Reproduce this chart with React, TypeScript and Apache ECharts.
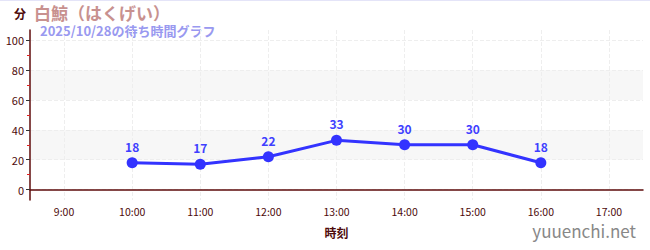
import React, { useEffect, useRef } from "react";
import * as echarts from "echarts";

const hours = ["9:00", "10:00", "11:00", "12:00", "13:00", "14:00", "15:00", "16:00", "17:00"];
const waits: (number | null)[] = [null, 18, 17, 22, 33, 30, 30, 18, null];
const yMajor = [0, 20, 40, 60, 80, 100];
const yMinor = [10, 30, 50, 70, 90];
const titleText = "白鯨（はくげい）";
const subText = "2025/10/28の待ち時間グラフ";

const FONT = "'Noto Sans CJK JP', 'Noto Sans', sans-serif";
const DARK = "#4d0a0a";

export default function App() {
  const ref = useRef<HTMLDivElement>(null);
  useEffect(() => {
    const chart = echarts.init(ref.current!, null, { renderer: "svg" });
    chart.setOption({
      animation: false,
      textStyle: { fontFamily: FONT },
      grid: { left: 30, right: 7, top: 30, bottom: 50 },
      graphic: [
        { type: "text", left: 14, top: 7, style: { text: "分", fill: DARK, font: `bold 12px ${FONT}` } },
        {
          type: "text",
          left: 34,
          top: 3,
          style: { text: titleText, fill: "#c8918f", font: `bold 17px ${FONT}`, lineHeight: 18 },
        },
        {
          type: "text",
          left: 40,
          top: 23,
          style: { text: subText, fill: "#9999f0", font: `bold 13px ${FONT}`, lineHeight: 15 },
        },
        { type: "text", right: 14, top: 222, style: { text: "yuuenchi.net", fill: "#888888", font: `17px ${FONT}` } },
        { type: "rect", left: 0, top: 0, shape: { width: 650, height: 1 }, style: { fill: "#e4e4f8" } },
      ],
      xAxis: {
        type: "category",
        data: hours,
        boundaryGap: true,
        name: "時刻",
        nameLocation: "middle",
        nameGap: 26,
        nameTextStyle: { color: DARK, fontWeight: "bold", fontSize: 12, fontFamily: FONT },
        axisLine: { lineStyle: { color: "#5e0b0b", width: 1.5 } },
        axisTick: { alignWithLabel: true, length: 4, lineStyle: { color: "#333" } },
        axisLabel: { color: DARK, fontSize: 10.5, margin: 6, fontFamily: FONT },
        splitLine: { show: true, alignWithLabel: true, lineStyle: { color: "#eeeeee", type: "dashed" } },
      },
      yAxis: [
        {
          type: "value",
          min: -7,
          max: 107,
          axisLine: { show: true, lineStyle: { color: "#5e0b0b", width: 1.5 } },
          axisTick: { show: true, customValues: yMajor, length: 4, lineStyle: { color: "#333" } },
          axisLabel: { customValues: yMajor, color: DARK, fontSize: 11, margin: 6, fontFamily: FONT },
          splitLine: { show: true, lineStyle: { color: "#eeeeee", type: "dashed" } },
          splitArea: { show: true, areaStyle: { color: ["rgba(0,0,0,0)", "#f7f7f7"] } },
        },
        {
          type: "value",
          position: "left",
          offset: 0,
          min: -7,
          max: 107,
          axisLine: { show: false },
          axisTick: { show: true, customValues: yMinor, length: 3, lineStyle: { color: "#e02020" } },
          axisLabel: { show: false },
          splitLine: { show: false },
        },
      ],
      series: [
        {
          type: "line",
          data: waits,
          yAxisIndex: 0,
          symbol: "circle",
          symbolSize: 11,
          lineStyle: { color: "#3333ff", width: 3 },
          itemStyle: { color: "#3333ff" },
          label: {
            show: true,
            position: "top",
            distance: 5,
            color: "#3f3fff",
            fontWeight: "bold",
            fontSize: 12,
            fontFamily: FONT,
          },
        },
      ],
    });
    return () => chart.dispose();
  }, []);
  return (
    <div
      ref={ref}
      style={{ position: "absolute", left: 0, top: 0, width: 650, height: 250, background: "#fff" }}
    />
  );
}
